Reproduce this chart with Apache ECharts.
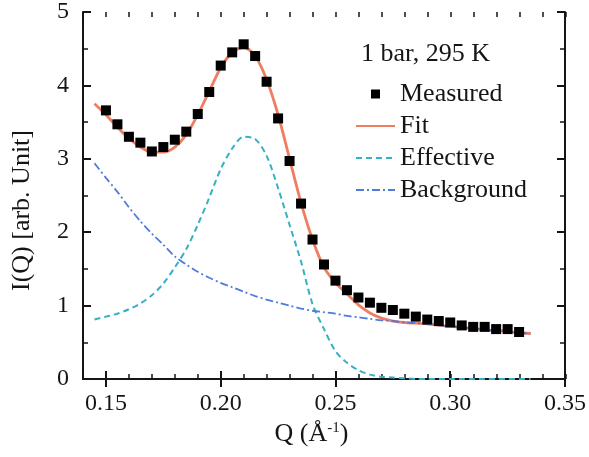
<!DOCTYPE html>
<html><head><meta charset="utf-8">
<script src="https://cdn.jsdelivr.net/npm/echarts@6/dist/echarts.min.js"></script>
<style>html,body{margin:0;padding:0;background:#fff}#c{width:589px;height:457px}</style>
</head><body><div id="c"></div>
<script>
// ---- data ----
const measuredQ = [0.150,0.155,0.160,0.165,0.170,0.175,0.180,0.185,0.190,0.195,0.200,0.205,0.210,0.215,0.220,0.225,0.230,0.235,0.240,0.245,0.250,0.255,0.260,0.265,0.270,0.275,0.280,0.285,0.290,0.295,0.300,0.305,0.310,0.315,0.320,0.325,0.330];
const measuredI = [3.66,3.47,3.30,3.22,3.10,3.16,3.26,3.37,3.61,3.91,4.27,4.45,4.56,4.40,4.05,3.55,2.97,2.39,1.90,1.56,1.34,1.21,1.11,1.04,0.97,0.94,0.89,0.85,0.81,0.79,0.77,0.73,0.71,0.71,0.68,0.68,0.64];
const curveQ = [0.145,0.150,0.155,0.160,0.165,0.170,0.175,0.180,0.185,0.190,0.195,0.200,0.205,0.210,0.215,0.220,0.225,0.230,0.235,0.240,0.245,0.250,0.255,0.260,0.265,0.270,0.275,0.280,0.285,0.290,0.295,0.300,0.305,0.310,0.315,0.320,0.325,0.330,0.335];
const fitI = [3.75,3.60,3.43,3.28,3.16,3.09,3.09,3.16,3.33,3.60,3.92,4.24,4.45,4.52,4.40,4.08,3.60,3.00,2.40,1.90,1.52,1.31,1.16,1.01,0.90,0.83,0.79,0.77,0.76,0.75,0.73,0.72,0.70,0.69,0.67,0.66,0.65,0.63,0.62];
const effectiveI = [0.81,0.85,0.89,0.95,1.03,1.14,1.30,1.52,1.77,2.10,2.47,2.86,3.14,3.30,3.27,3.04,2.60,2.10,1.60,1.02,0.68,0.38,0.22,0.12,0.06,0.03,0.02,0.01,0.00,0.00,0.00,0.00,0.00,0.00,0.00,0.00,0.00,0.00,0.00];
const backgroundI = [2.94,2.74,2.55,2.34,2.15,1.98,1.83,1.67,1.56,1.46,1.38,1.31,1.25,1.19,1.13,1.08,1.04,1.00,0.96,0.93,0.91,0.89,0.86,0.84,0.82,0.80,0.79,0.77,0.76,0.75,0.73,0.72,0.70,0.69,0.67,0.66,0.65,0.63,0.62];
const xMajorTicks = [0.15,0.20,0.25,0.30,0.35];
const seriesNames = ['Measured','Fit','Effective','Background'];
const annotation = '1 bar, 295 K';

// ---- chart ----
const font = 'Liberation Serif';
const ink = '#151515';
const pair = (xs, ys) => xs.map((x,i)=>[x, ys[i]]);
const rect = {left:83, top:12, right:23, bottom:78};
const noSym = {opacity:0};

const chart = echarts.init(document.getElementById('c'));
chart.setOption({
  animation:false,
  backgroundColor:'#fff',
  textStyle:{fontFamily:font},
  title:{text:annotation, left:361, top:41, padding:0,
    textStyle:{fontFamily:font, fontSize:26, fontWeight:'normal', color:ink}},
  legend:{orient:'vertical', left:355, top:81, padding:0, itemWidth:39, itemHeight:9, itemGap:6,
    textStyle:{fontFamily:font, fontSize:26, color:ink, lineHeight:26},
    data:[{name:seriesNames[0], icon:'path://M0,0h10v10h-10z', itemStyle:{color:'#000', opacity:1}},
          {name:seriesNames[1], itemStyle:noSym},
          {name:seriesNames[2], itemStyle:noSym},
          {name:seriesNames[3], itemStyle:noSym}]},
  grid:[Object.assign({}, rect), Object.assign({}, rect)],
  xAxis:[
    {gridIndex:0, type:'value', position:'bottom', min:0.14, max:0.35,
     name:'{a|Q (Å}{s|-1}{a|)}', nameLocation:'middle', nameGap:39,
     nameTextStyle:{padding:[0,25,0,0], rich:{a:{fontFamily:font,fontSize:26,color:ink}, s:{fontFamily:font,fontSize:15,color:ink,verticalAlign:'top', padding:[0,0,8,0]}}},
     axisLine:{lineStyle:{color:ink,width:2}},
     axisTick:{inside:true, length:8, customValues:xMajorTicks, lineStyle:{color:ink,width:2}},
     axisLabel:{customValues:xMajorTicks, formatter:v=>v.toFixed(2), fontFamily:font, fontSize:24, color:ink, margin:13},
     splitLine:{show:false}},
    {gridIndex:0, type:'value', position:'top', min:0.14, max:0.35,
     axisLine:{lineStyle:{color:ink,width:2}},
     axisTick:{inside:true, length:8, customValues:xMajorTicks, lineStyle:{color:ink,width:2}},
     axisLabel:{show:false}, splitLine:{show:false}},
    {gridIndex:1, type:'value', position:'bottom', min:0.14, max:0.35, interval:0.01,
     axisLine:{show:false}, axisTick:{inside:true, length:5, lineStyle:{color:ink,width:1.5}},
     axisLabel:{show:false}, splitLine:{show:false}},
    {gridIndex:1, type:'value', position:'top', min:0.14, max:0.35, interval:0.01,
     axisLine:{show:false}, axisTick:{inside:true, length:5, lineStyle:{color:ink,width:1.5}},
     axisLabel:{show:false}, splitLine:{show:false}}
  ],
  yAxis:[
    {gridIndex:0, type:'value', position:'left', min:0, max:5, interval:1,
     name:'I(Q) [arb. Unit]', nameLocation:'middle', nameGap:48,
     nameTextStyle:{fontFamily:font, fontSize:26, color:ink, padding:[0,30,0,0]},
     axisLine:{lineStyle:{color:ink,width:2}},
     axisTick:{inside:true, length:8, lineStyle:{color:ink,width:2}},
     minorTick:{show:true, splitNumber:2, length:5, lineStyle:{color:ink,width:1.5}},
     axisLabel:{fontFamily:font, fontSize:24, color:ink, margin:14},
     splitLine:{show:false}},
    {gridIndex:0, type:'value', position:'right', min:0, max:5, interval:1,
     axisLine:{lineStyle:{color:ink,width:2}},
     axisTick:{inside:true, length:8, lineStyle:{color:ink,width:2}},
     minorTick:{show:true, splitNumber:2, length:5, lineStyle:{color:ink,width:1.5}},
     axisLabel:{show:false}, splitLine:{show:false}},
    {gridIndex:1, type:'value', min:0, max:5, show:false}
  ],
  series:[
    {name:seriesNames[1], type:'line', xAxisIndex:0, yAxisIndex:0, data:pair(curveQ, fitI),
     symbol:'none', smooth:0.3, z:2, color:'#ef7d60', lineStyle:{color:'#ef7d60', width:2.8}},
    {name:seriesNames[2], type:'line', xAxisIndex:0, yAxisIndex:0, data:pair(curveQ, effectiveI),
     symbol:'none', smooth:0.3, z:2, color:'#36b1c2', lineStyle:{color:'#36b1c2', width:2, type:[6,4]}},
    {name:seriesNames[3], type:'line', xAxisIndex:0, yAxisIndex:0, data:pair(curveQ, backgroundI),
     symbol:'none', smooth:0.3, z:2, color:'#4f7bdc', lineStyle:{color:'#4f7bdc', width:1.8, type:[8,3,2,3]}},
    {name:seriesNames[0], type:'scatter', xAxisIndex:0, yAxisIndex:0, data:pair(measuredQ, measuredI),
     symbol:'rect', symbolSize:10, z:5, itemStyle:{color:'#000', opacity:1}}
  ]
});
</script></body></html>
